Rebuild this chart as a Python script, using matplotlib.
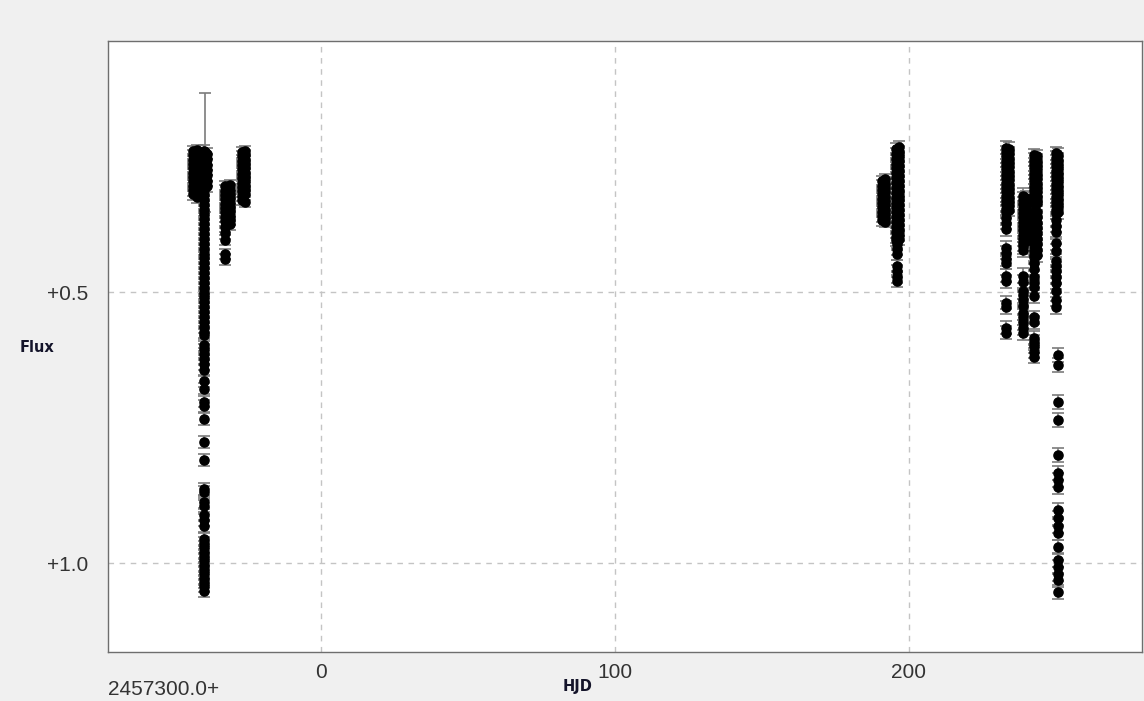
import matplotlib.pyplot as plt

# nightly photometry: one HJD per night (offset from 2457300.0), fluxes per night
night_hjd = [-43.4, -42.2, -39.6, -38.8, -32.6, -31.0, -26.8, -25.8,
             191.0, 192.0, 195.6, 196.6, 196.2,
             233.2, 234.0, 239.0, 239.8, 242.8, 243.6, 250.0, 250.8]
night_err = [0.010, 0.010, 0.011, 0.010, 0.010, 0.010, 0.010, 0.010,
             0.010, 0.010, 0.011, 0.011, 0.011,
             0.012, 0.012, 0.014, 0.012, 0.012, 0.012, 0.012, 0.013]
night_flux = [
    [0.240, 0.248, 0.256, 0.264, 0.272, 0.280, 0.288, 0.296, 0.304, 0.312, 0.320],
    [0.238, 0.246, 0.255, 0.263, 0.271, 0.279, 0.287, 0.295, 0.303, 0.311, 0.318, 0.325],
    [0.240, 0.249, 0.258, 0.267, 0.276, 0.285, 0.294, 0.303, 0.312, 0.321, 0.330, 0.339,
     0.348, 0.357, 0.366, 0.375, 0.384, 0.393, 0.402, 0.411, 0.420, 0.429, 0.438, 0.447,
     0.456, 0.465, 0.474, 0.483, 0.492, 0.501, 0.510, 0.519, 0.528, 0.537, 0.546, 0.555,
     0.564, 0.573, 0.580, 0.597, 0.606, 0.615, 0.624, 0.633, 0.643, 0.664, 0.678, 0.702,
     0.710, 0.734, 0.776, 0.810, 0.863, 0.869, 0.887, 0.895, 0.911, 0.921, 0.931, 0.955,
     0.963, 0.971, 0.979, 0.987, 0.995, 1.003, 1.011, 1.019, 1.027, 1.035, 1.043, 1.052],
    [0.245, 0.255, 0.265, 0.275, 0.285, 0.295, 0.305],
    [0.305, 0.313, 0.321, 0.329, 0.337, 0.345, 0.353, 0.361, 0.369, 0.380, 0.392, 0.404,
     0.430, 0.440],
    [0.303, 0.311, 0.319, 0.327, 0.335, 0.343, 0.351, 0.359, 0.367, 0.375],
    [0.242, 0.250, 0.258, 0.266, 0.274, 0.282, 0.290, 0.298, 0.306, 0.314, 0.322, 0.330],
    [0.240, 0.248, 0.256, 0.264, 0.272, 0.280, 0.288, 0.296, 0.304, 0.312, 0.320, 0.334],
    [0.296, 0.304, 0.312, 0.320, 0.328, 0.336, 0.344, 0.352, 0.360, 0.368],
    [0.292, 0.300, 0.308, 0.316, 0.324, 0.332, 0.340, 0.348, 0.356, 0.364, 0.370],
    [0.236, 0.245, 0.254, 0.263, 0.272, 0.281, 0.290, 0.299, 0.308, 0.317, 0.326, 0.335,
     0.344, 0.353, 0.362, 0.371, 0.380, 0.389, 0.398, 0.404],
    [0.232, 0.241, 0.250, 0.259, 0.268, 0.277, 0.286, 0.295, 0.304, 0.313, 0.322, 0.331,
     0.340, 0.349, 0.358, 0.367, 0.376, 0.385, 0.394, 0.402],
    [0.412, 0.420, 0.430, 0.452, 0.462, 0.472, 0.480],
    [0.234, 0.242, 0.250, 0.258, 0.266, 0.274, 0.282, 0.290, 0.298, 0.306, 0.314, 0.322,
     0.330, 0.338, 0.346, 0.352, 0.364, 0.372, 0.384, 0.418, 0.428, 0.440, 0.446, 0.470,
     0.480, 0.520, 0.528, 0.566, 0.575],
    [0.236, 0.244, 0.252, 0.260, 0.268, 0.276, 0.284, 0.292, 0.300, 0.308, 0.316, 0.324,
     0.332, 0.340, 0.348],
    [0.322, 0.330, 0.338, 0.346, 0.354, 0.362, 0.370, 0.378, 0.386, 0.394, 0.402, 0.410,
     0.416, 0.422, 0.470, 0.482, 0.498, 0.506, 0.514, 0.526, 0.538, 0.546, 0.556, 0.566,
     0.575],
    [0.326, 0.334, 0.342, 0.350, 0.358, 0.366, 0.374, 0.382, 0.390, 0.398, 0.406],
    [0.248, 0.256, 0.264, 0.272, 0.280, 0.288, 0.296, 0.304, 0.312, 0.320, 0.328, 0.336,
     0.350, 0.358, 0.366, 0.374, 0.382, 0.390, 0.398, 0.406, 0.414, 0.422, 0.430, 0.436,
     0.447, 0.458, 0.473, 0.481, 0.490, 0.508, 0.547, 0.556, 0.584, 0.592, 0.600, 0.610,
     0.619],
    [0.250, 0.258, 0.266, 0.274, 0.282, 0.290, 0.298, 0.306, 0.314, 0.322, 0.330, 0.336,
     0.352, 0.362, 0.372, 0.382, 0.392, 0.402, 0.412, 0.422, 0.432],
    [0.244, 0.252, 0.260, 0.268, 0.276, 0.284, 0.292, 0.300, 0.308, 0.316, 0.324, 0.332,
     0.340, 0.348, 0.354, 0.368, 0.378, 0.390, 0.410, 0.424, 0.442, 0.452, 0.462, 0.472,
     0.483, 0.498, 0.514, 0.528],
    [0.248, 0.256, 0.264, 0.272, 0.280, 0.288, 0.296, 0.304, 0.312, 0.320, 0.328, 0.336,
     0.344, 0.352, 0.616, 0.635, 0.703, 0.736, 0.801, 0.834, 0.847, 0.860, 0.902, 0.917,
     0.932, 0.945, 0.970, 0.994, 1.007, 1.020, 1.031, 1.054],
]

# single point with a large uncertainty
outlier_hjd = [-39.5]
outlier_flux = [0.242]
outlier_err = [0.110]

x_ticks = [0, 100, 200]
y_ticks = [0.5, 1.0]
y_ticklabels = ["+0.5", "+1.0"]

BG = "#f0f0f0"
FONT = "Liberation Sans"
ERR = dict(fmt="o", color="black", ms=6.6, ecolor="#7c7c7c", elinewidth=1.2,
           capsize=4.0, capthick=1.2, zorder=3)

fig = plt.figure(figsize=(11.44, 7.01), dpi=100, facecolor=BG)
ax = fig.add_axes([108 / 1144, 1 - 652 / 701, 1034 / 1144, 611 / 701])
ax.set_facecolor("white")

for hjd, fluxes, err in zip(night_hjd, night_flux, night_err):
    ax.errorbar([hjd] * len(fluxes), fluxes, yerr=err, **ERR)
ax.errorbar(outlier_hjd, outlier_flux, yerr=outlier_err, **ERR)

ax.set_xlim(-72.4, 279.4)
ax.set_ylim(1.164, 0.037)
ax.set_xticks(x_ticks)
ax.set_xticklabels([str(t) for t in x_ticks], fontfamily=FONT, fontsize=15,
                   color="#333333")
ax.set_yticks(y_ticks)
ax.set_yticklabels(y_ticklabels, fontfamily=FONT, fontsize=15, color="#333333")
ax.tick_params(axis="x", length=0, pad=8)
ax.tick_params(axis="y", length=0, pad=14)
ax.grid(True, color="#c4c4c4", linestyle=(0, (4, 4)), linewidth=1.0, zorder=0)
ax.set_axisbelow(True)
for sp in ax.spines.values():
    sp.set_color("#6e6e6e")
    sp.set_linewidth(1.0)

fig.text(20 / 1144, 1 - 347 / 701, "Flux", fontfamily="DejaVu Sans", fontsize=10.5,
         fontweight="bold", color="#14142a", ha="left", va="center")
fig.text(578 / 1144, 1 - 686 / 701, "HJD", fontfamily="DejaVu Sans", fontsize=10.5,
         fontweight="bold", color="#14142a", ha="center", va="center")
fig.text(108 / 1144, 1 - 699 / 701, "2457300.0+", fontfamily=FONT, fontsize=15,
         color="#333333", ha="left", va="bottom")

fig.savefig("out.png", dpi=100, facecolor=BG)
